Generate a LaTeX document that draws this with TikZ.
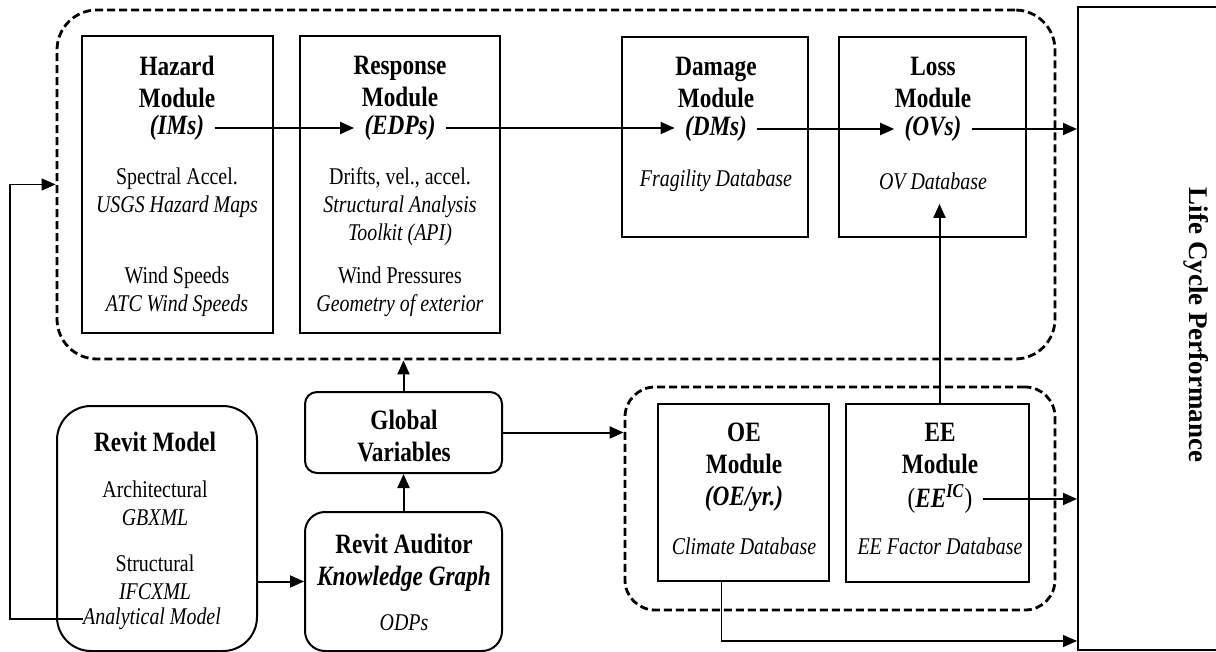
\documentclass[tikz,border=0pt]{standalone}
\usepackage{fontspec}
\setmainfont{Liberation Serif}[FakeStretch=0.83]
\newfontfamily\lcpfont{Liberation Serif}
\usetikzlibrary{positioning,arrows.meta}

\begin{document}
\begin{tikzpicture}[x=0.5pt,y=-0.5pt,
    mbox/.style={draw,line width=1pt,inner sep=0pt},
    dbox/.style={draw,line width=1.4pt,dash pattern=on 4pt off 2pt,inner sep=0pt},
    ttl/.style={font=\fontsize{14}{16}\selectfont\bfseries,align=center,inner sep=0pt},
    txt/.style={font=\fontsize{12}{14}\selectfont,align=center,inner sep=0pt},
    idx/.style={font=\fontsize{14}{16}\selectfont\bfseries\itshape,inner xsep=5pt,inner ysep=0pt},
    arr/.style={-{Triangle[length=7pt,width=6pt]},line width=1pt},
    fine/.style={-{Triangle[length=7pt,width=6pt]},line width=0.6pt}]

    \useasboundingbox (0,0) rectangle (1216,652);

    % dashed groups
    \node[dbox,rounded corners=20pt,minimum width=499pt,minimum height=174.5pt] (top) at (556,184.5) {};
    \node[dbox,rounded corners=15pt,minimum width=215pt,minimum height=111.5pt] (env) at (840,498.5) {};

    % module boxes
    \node[mbox,minimum width=95.5pt,minimum height=148.5pt] (haz) at (177.5,184.5) {};
    \node[mbox,minimum width=100pt,minimum height=148.5pt] (resp) at (400,184.5) {};
    \node[mbox,minimum width=93pt,minimum height=100pt] (dmg) at (715,137) {};
    \node[mbox,minimum width=93.5pt,minimum height=100pt] (loss) at (932.5,137) {};
    \node[mbox,minimum width=85.5pt,minimum height=88.5pt] (oe) at (743.5,492.5) {};
    \node[mbox,minimum width=91.5pt,minimum height=89pt] (ee) at (937.5,493) {};
    \node[mbox,rounded corners=6pt,minimum width=98.5pt,minimum height=40.5pt] (gv) at (403.5,432.5) {};
    \node[mbox,rounded corners=10pt,minimum width=98.5pt,minimum height=69.5pt] (ra) at (403.5,581.5) {};
    \node[mbox,rounded corners=17pt,minimum width=100pt,minimum height=122.5pt] (rm) at (157,528.5) {};
    \node[mbox,minimum width=72pt,minimum height=321.5pt] (lcp) at (1150,328.5) {};

    % texts
    \begin{scope}[every node/.style={txt}]
        \node[ttl] (hazt) at (177,82) {Hazard\\Module};
        \node[idx] (ims) at (177,128) {(IMs)};
        \node (hazs) at (177,193) {Spectral Accel.\\\textit{USGS Hazard Maps}};
        \node (hazw) at (177,292) {Wind Speeds\\\textit{ATC Wind Speeds}};

        \node[ttl] (respt) at (400,82) {Response\\Module};
        \node[idx] (edp) at (400,128) {(EDPs)};
        \node (resps) at (400,207) {Drifts, vel., accel.\\\textit{Structural Analysis}\\\textit{Toolkit (API)}};
        \node (respw) at (400,292) {Wind Pressures\\\textit{Geometry of exterior}};

        \node[ttl] (dmgt) at (716,83) {Damage\\Module};
        \node[idx] (dms) at (716,129) {(DMs)};
        \node (dmgdb) at (716,181) {\textit{Fragility Database}};

        \node[ttl] (losst) at (933,83) {Loss\\Module};
        \node[idx] (ovs) at (933,129) {(OVs)};
        \node (ovdb) at (933,181) {\textit{OV Database}};

        \node[ttl] (rmt) at (155,442) {Revit Model};
        \node (rma) at (155,503) {Architectural\\\textit{GBXML}};
        \node (rms) at (155,577) {Structural\\\textit{IFCXML}};
        \node (anm) at (152,619) {\textit{Analytical Model}};

        \node[ttl] (gvt) at (404,435.5) {Global\\Variables};

        \node[ttl] (rat) at (404,563) {Revit Auditor\\\textit{Knowledge Graph}};
        \node (odp) at (404,623) {\textit{ODPs}};

        \node[ttl] (oet) at (744,448.5) {OE\\Module};
        \node[idx] (oey) at (744,499) {(OE/yr.)};
        \node (oedb) at (744,546) {\textit{Climate Database}};

        \node[ttl] (eet) at (940,448.5) {EE\\Module};
        \node[idx] (eeic) at (940,499) {{\mdseries\upshape(}EE\textsuperscript{IC}{\mdseries\upshape)}};
        \node (eedb) at (940,546) {\textit{EE Factor Database}};

        \node[rotate=-90,inner sep=0pt,font=\lcpfont\fontsize{13.5}{15}\selectfont\bfseries] (lcpt) at (1196,325) {Life Cycle Performance};
    \end{scope}

    % flow
    \draw[arr] (ims) -- (edp);
    \draw[arr] (edp) -- (edp -| dms.west);
    \draw[arr] (dms) -- (ovs);
    \draw[arr] (ovs) -- (ovs -| lcp.west);
    \draw[arr] (gv) -- (gv |- top.south);
    \draw[arr] (ra) -- (gv);
    \draw[arr] (rm.east |- ra.west) -- (ra.west);
    \draw[arr] (gv) -- (gv -| env.west);
    \draw[arr] ([xshift=1pt]ee.north) -- ([xshift=1pt]ee.north |- ovdb.south) [shorten >=7pt];
    \draw[arr] (eeic) -- (eeic -| lcp.west);
    \coordinate (fb) at (10,184.5);
    \draw[fine] (anm.west) -| (fb) -- (top.west);
    \draw[fine] ([xshift=-11pt]oe.south) |- ([yshift=5pt]lcp.south west);
\end{tikzpicture}
\end{document}
